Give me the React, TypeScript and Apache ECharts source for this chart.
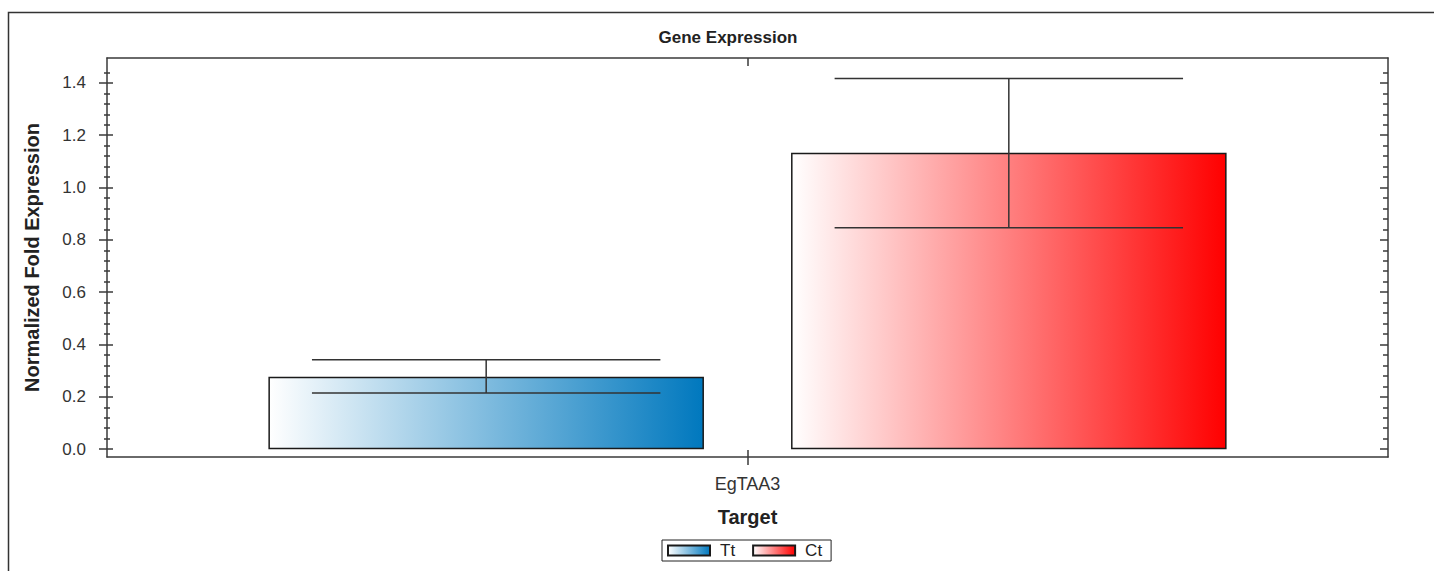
import React, { useEffect, useRef } from 'react';
import * as echarts from 'echarts';

const categories = ['EgTAA3'];
const seriesNames = ['Tt', 'Ct'];
const ttValues = [0.277];
const ctValues = [1.133];
const ttErrLow = [0.215];
const ttErrHigh = [0.342];
const ctErrLow = [0.846];
const ctErrHigh = [1.417];
const majorTicks = [0, 0.2, 0.4, 0.6, 0.8, 1.0, 1.2, 1.4];
const minorTicks: number[] = [];
for (let i = 1; i <= 36; i++) {
  if (i % 5 !== 0) minorTicks.push(Math.round(i * 4) / 100);
}

const Y_MIN = -0.03;
const Y_MAX = 1.495;
const BAR_FRAC = 0.34;
const GAP_FRAC = 0.2;
const WHISKER_FRAC = 0.8;

const AXIS_COLOR = '#3a3a3a';
const FONT = '"Liberation Sans", Arial, sans-serif';

function grad(end: string) {
  return {
    type: 'linear',
    x: 0,
    y: 0,
    x2: 1,
    y2: 0,
    colorStops: [
      { offset: 0, color: '#FFFFFF' },
      { offset: 1, color: end },
    ],
  };
}

export default function App() {
  const ref = useRef<HTMLDivElement>(null);
  useEffect(() => {
    if (!ref.current) return;
    const chart = echarts.init(ref.current, undefined, { renderer: 'svg' });

    const errData: any[] = [];
    categories.forEach((_, i) => {
      errData.push([i, ttErrLow[i], ttErrHigh[i], 0]);
      errData.push([i, ctErrLow[i], ctErrHigh[i], 1]);
    });

    const baseY = {
      type: 'value',
      min: Y_MIN,
      max: Y_MAX,
      splitLine: { show: false },
      axisLabel: { show: false },
      axisLine: { show: false },
    };

    const option: any = {
      animation: false,
      backgroundColor: '#ffffff',
      title: {
        text: 'Gene Expression',
        left: 723,
        top: 24,
        textAlign: 'center',
        textStyle: { fontFamily: FONT, fontWeight: 'bold', fontSize: 17, color: '#222' },
      },
      legend: {
        data: seriesNames,
        left: 662,
        top: 540,
        orient: 'horizontal',
        icon: 'rect',
        itemWidth: 42,
        itemHeight: 10,
        itemGap: 17,
        borderColor: '#222',
        borderWidth: 1,
        padding: [2, 9, 2, 5],
        selectedMode: false,
        textStyle: { fontFamily: FONT, fontSize: 17, color: '#222', padding: [0, 0, 0, 5], lineHeight: 17 },
      },
      grid: { left: 107, right: 46, top: 58, bottom: 114, containLabel: false, outerBoundsMode: 'none' },
      xAxis: [
        {
          type: 'category',
          data: categories,
          position: 'bottom',
          axisLine: { show: true, onZero: false, lineStyle: { color: AXIS_COLOR, width: 1.5 } },
          axisTick: { show: true, alignWithLabel: true, length: 8, lineStyle: { color: AXIS_COLOR, width: 1.5 } },
          axisLabel: { fontFamily: FONT, fontSize: 18, color: '#333', margin: 18 },
          name: 'Target',
          nameLocation: 'middle',
          nameGap: 50,
          nameTextStyle: { fontFamily: FONT, fontWeight: 'bold', fontSize: 20, color: '#222' },
        },
        {
          type: 'category',
          data: categories,
          position: 'bottom',
          axisLine: { show: false, onZero: false },
          axisTick: { show: true, inside: true, alignWithLabel: true, length: 7, lineStyle: { color: AXIS_COLOR, width: 1.5 } },
          axisLabel: { show: false },
        },
        {
          type: 'category',
          data: categories,
          position: 'top',
          axisLine: { show: true, onZero: false, lineStyle: { color: AXIS_COLOR, width: 1.5 } },
          axisTick: { show: true, inside: true, alignWithLabel: true, length: 8, lineStyle: { color: AXIS_COLOR, width: 1.5 } },
          axisLabel: { show: false },
        },
      ],
      yAxis: [
        {
          type: 'value',
          min: Y_MIN,
          max: Y_MAX,
          position: 'left',
          splitLine: { show: false },
          axisLine: { show: true, onZero: false, lineStyle: { color: AXIS_COLOR, width: 1.5 } },
          axisTick: { show: true, length: 8, customValues: majorTicks, lineStyle: { color: AXIS_COLOR, width: 1.5 } },
          axisLabel: {
            customValues: majorTicks,
            formatter: (v: number) => v.toFixed(1),
            fontFamily: FONT,
            fontSize: 17,
            color: '#333',
            margin: 21,
          },
          name: 'Normalized Fold Expression',
          nameLocation: 'middle',
          nameGap: 65,
          nameTextStyle: { fontFamily: FONT, fontWeight: 'bold', fontSize: 20, color: '#222' },
        },
        {
          ...baseY,
          position: 'left',
          axisTick: { show: true, inside: true, length: 6, customValues: majorTicks, lineStyle: { color: AXIS_COLOR, width: 1.5 } },
        },
        {
          ...baseY,
          position: 'left',
          axisTick: { show: true, length: 3, customValues: minorTicks, lineStyle: { color: AXIS_COLOR, width: 1.5 } },
        },
        {
          ...baseY,
          position: 'left',
          axisTick: { show: true, inside: true, length: 3, customValues: minorTicks, lineStyle: { color: AXIS_COLOR, width: 1.5 } },
        },
        {
          ...baseY,
          position: 'right',
          axisLine: { show: true, onZero: false, lineStyle: { color: AXIS_COLOR, width: 1.5 } },
          axisTick: { show: true, inside: true, length: 8, customValues: majorTicks, lineStyle: { color: AXIS_COLOR, width: 1.5 } },
        },
        {
          ...baseY,
          position: 'right',
          axisTick: { show: true, inside: true, length: 5, customValues: minorTicks, lineStyle: { color: AXIS_COLOR, width: 1.5 } },
        },
      ],
      series: [
        {
          name: seriesNames[0],
          type: 'bar',
          xAxisIndex: 0,
          yAxisIndex: 0,
          data: ttValues,
          barWidth: BAR_FRAC * 100 + '%',
          barGap: GAP_FRAC * 100 + '%',
          itemStyle: { color: grad('#0078BE'), borderColor: '#1a1a1a', borderWidth: 1.5 },
        },
        {
          name: seriesNames[1],
          type: 'bar',
          xAxisIndex: 0,
          yAxisIndex: 0,
          data: ctValues,
          barWidth: BAR_FRAC * 100 + '%',
          barGap: GAP_FRAC * 100 + '%',
          itemStyle: { color: grad('#FF0000'), borderColor: '#1a1a1a', borderWidth: 1.5 },
        },
        {
          type: 'custom',
          xAxisIndex: 0,
          yAxisIndex: 0,
          data: errData,
          z: 10,
          renderItem: (params: any, api: any) => {
            const cat = api.value(0);
            const lo = api.value(1);
            const hi = api.value(2);
            const s = api.value(3);
            const pLo = api.coord([cat, lo]);
            const pHi = api.coord([cat, hi]);
            const band = api.size([1, 0])[0];
            const barW = band * BAR_FRAC;
            const gap = barW * GAP_FRAC;
            const x = pLo[0] + (s === 0 ? -1 : 1) * (barW + gap) / 2;
            const half = (barW * WHISKER_FRAC) / 2;
            const style = { stroke: '#333', lineWidth: 1.5 };
            return {
              type: 'group',
              children: [
                { type: 'line', shape: { x1: x - half, y1: pHi[1], x2: x + half, y2: pHi[1] }, style },
                { type: 'line', shape: { x1: x - half, y1: pLo[1], x2: x + half, y2: pLo[1] }, style },
                { type: 'line', shape: { x1: x, y1: pLo[1], x2: x, y2: pHi[1] }, style },
              ],
            };
          },
        },
      ],
      graphic: [
        {
          type: 'rect',
          shape: { x: 8.5, y: 12.5, width: 1440, height: 600 },
          style: { fill: 'none', stroke: '#333', lineWidth: 1.5 },
          silent: true,
          z: -1,
        },
      ],
    };

    chart.setOption(option);
    return () => chart.dispose();
  }, []);

  return (
    <div
      ref={ref}
      style={{ position: 'fixed', left: 0, top: 0, width: 1434, height: 571, background: '#fff' }}
    />
  );
}
